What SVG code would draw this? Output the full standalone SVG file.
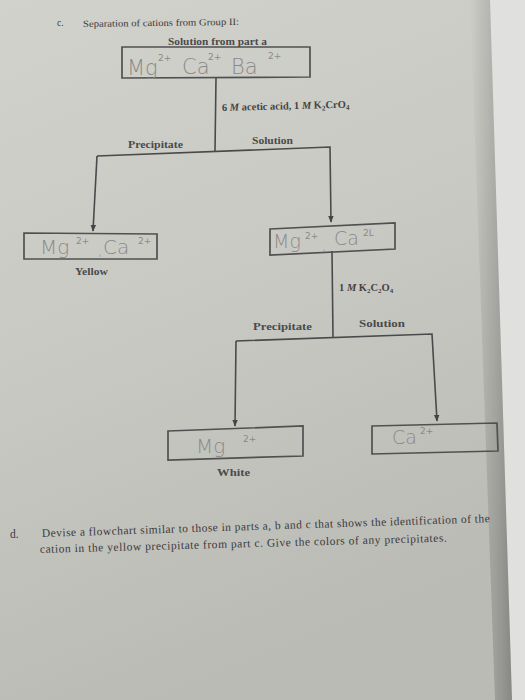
<svg xmlns="http://www.w3.org/2000/svg" width="525" height="700" viewBox="0 0 525 700">
<defs>
<linearGradient id="paper" x1="0" y1="0" x2="0.3" y2="1">
<stop offset="0" stop-color="#d2d2cd"/>
<stop offset="0.5" stop-color="#c9c9c4"/>
<stop offset="1" stop-color="#bbbbb6"/>
</linearGradient>
<linearGradient id="shadow" x1="0" y1="0" x2="1" y2="0">
<stop offset="0" stop-color="#000" stop-opacity="0"/>
<stop offset="0.7" stop-color="#000" stop-opacity="0.18"/>
<stop offset="1" stop-color="#000" stop-opacity="0.28"/>
</linearGradient>
<marker id="arr" viewBox="0 0 10 10" refX="9" refY="5" markerWidth="7" markerHeight="7" orient="auto" markerUnits="userSpaceOnUse">
<path d="M0,1 L10,5 L0,9 z" fill="#444"/>
</marker>
<style>
.ln{stroke:#4a4a4a;stroke-width:1.6;fill:none}
.box{stroke:#505050;stroke-width:1.7;fill:none}
.pr{font-family:"Liberation Serif",serif;fill:#3a3a3a}
.lb{font-family:"Liberation Serif",serif;font-weight:bold;fill:#4a4a4a;font-size:10.5px}
.rg{font-family:"Liberation Serif",serif;font-weight:bold;fill:#444;font-size:10.5px}
.hw{font-family:"DejaVu Sans",sans-serif;fill:#8a8a88;font-weight:300}
.hs{font-family:"DejaVu Sans",sans-serif;fill:#8a8a88;font-size:9px}
</style>
</defs>
<rect width="525" height="700" fill="#e0e0de"/>
<polygon points="0,0 490,0 512,700 0,700" fill="url(#paper)"/>
<polygon points="470,0 490,0 512,700 495,700" fill="url(#shadow)"/>

<g class="pr" font-size="9.5">
<text x="57" y="26">c.</text>
<text x="83" y="27" textLength="156" lengthAdjust="spacingAndGlyphs" transform="rotate(-0.8 83 27)">Separation of cations from Group II:</text>
</g>

<g id="connectors">
<line class="ln" x1="216" y1="78" x2="215" y2="151"/>
<polyline class="ln" points="97,156 330,147 331,222" marker-end="url(#arr)"/>
<line class="ln" x1="97" y1="156" x2="93" y2="231" marker-end="url(#arr)"/>
<line class="ln" x1="332" y1="251" x2="333" y2="337"/>
<polyline class="ln" points="236,341 432,334 437,421" marker-end="url(#arr)"/>
<line class="ln" x1="236" y1="341" x2="235" y2="426" marker-end="url(#arr)"/>
</g>

<g id="labels">
<text class="lb" x="168" y="45" textLength="99" lengthAdjust="spacingAndGlyphs">Solution from part a</text>
<text class="rg" x="222" y="111" transform="rotate(-1.5 222 111)">6 <tspan font-style="italic">M</tspan> acetic acid, 1 <tspan font-style="italic">M</tspan> K<tspan font-size="7" dy="2">2</tspan><tspan dy="-2">CrO</tspan><tspan font-size="7" dy="2">4</tspan></text>
<text class="lb" x="128" y="148" textLength="55" lengthAdjust="spacingAndGlyphs">Precipitate</text>
<text class="lb" x="252" y="144" textLength="41" lengthAdjust="spacingAndGlyphs">Solution</text>
<text class="rg" x="339" y="291">1 <tspan font-style="italic">M</tspan> K<tspan font-size="7" dy="2">2</tspan><tspan dy="-2">C</tspan><tspan font-size="7" dy="2">2</tspan><tspan dy="-2">O</tspan><tspan font-size="7" dy="2">4</tspan></text>
<text class="lb" x="253" y="330" textLength="59" lengthAdjust="spacingAndGlyphs">Precipitate</text>
<text class="lb" x="359" y="327" textLength="46" lengthAdjust="spacingAndGlyphs">Solution</text>
</g>

<g id="node-start">
<polygon class="box" points="122,47 310,47 310,77 122,78"/>
<text class="hw" x="127" y="75" font-size="21">Mg</text>
<text class="hs" x="158" y="61">2+</text>
<text class="hw" x="182" y="74" font-size="21">Ca</text>
<text class="hs" x="208" y="60">2+</text>
<text class="hw" x="231" y="74" font-size="21">Ba</text>
<text class="hs" x="268" y="59">2+</text>
</g>

<g id="node-yellow">
<polygon class="box" points="24,233 157,234 157,259 24,259"/>
<text class="hw" x="40" y="254" font-size="20">Mg</text>
<text class="hs" x="76" y="244">2+</text>
<text class="hw" x="98" y="255" font-size="14">,</text>
<text class="hw" x="103" y="254" font-size="20">Ca</text>
<text class="hs" x="138" y="244">2+</text>
<text class="lb" x="75" y="275" textLength="33" lengthAdjust="spacingAndGlyphs">Yellow</text>
</g>

<g id="node-solution">
<polygon class="box" points="270,229 395,223 395,249 270,255"/>
<text class="hw" x="273" y="248" font-size="19">Mg</text>
<text class="hs" x="305" y="239">2+</text>
<text class="hw" x="322" y="250" font-size="14">,</text>
<text class="hw" x="334" y="245" font-size="19">Ca</text>
<text class="hs" x="363" y="236">2L</text>
</g>

<g id="node-white">
<polygon class="box" points="168,431 303,426 303,456 168,460"/>
<text class="hw" x="196" y="453" font-size="20">Mg</text>
<text class="hs" x="243" y="442" font-size="11">2+</text>
<text class="lb" x="217" y="476" textLength="33" lengthAdjust="spacingAndGlyphs">White</text>
</g>

<g id="node-ca">
<polygon class="box" points="372,426 497,423 498,451 372,454"/>
<text class="hw" x="392" y="444" font-size="19">Ca</text>
<text class="hs" x="420" y="434">2+</text>
</g>

<g class="pr" font-size="11.5">
<text x="10" y="538">d.</text>
<text x="42" y="537" textLength="448" transform="rotate(-1.9 42 537)">Devise a flowchart similar to those in parts a, b and c that shows the identification of the</text>
<text x="40" y="553" textLength="407" transform="rotate(-1.6 40 553)">cation in the yellow precipitate from part c. Give the colors of any precipitates.</text>
</g>
</svg>
